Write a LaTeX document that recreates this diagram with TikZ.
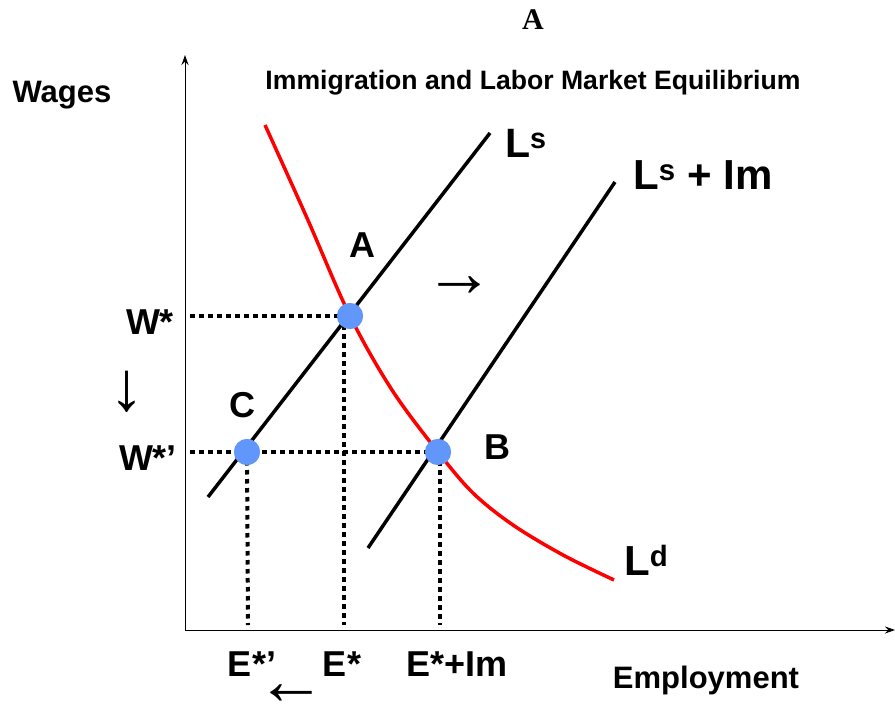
\documentclass[tikz,border=0pt]{standalone}
\usepackage{fontspec}
\setmainfont{Liberation Sans}
\newfontfamily\serifA{Liberation Serif}
\usetikzlibrary{arrows.meta}
\definecolor{dotblue}{RGB}{97,150,250}
\begin{document}
\begin{tikzpicture}[x=1pt,y=-1pt,
  lbl/.style={font=\fontsize{36}{40}\selectfont\bfseries, inner sep=0pt},
  axis/.style={line width=1pt, -{Stealth[length=10pt,width=7pt]}},
  supply/.style={line width=3.5pt},
  demand/.style={line width=3.5pt, red},
  guide/.style={line width=4pt, dash pattern=on 4.5pt off 4.5pt},
  eq/.style={circle, fill=dotblue, minimum size=26pt, inner sep=0pt},
  sym/.style={font=\serifA\fontsize{70}{70}\selectfont, inner sep=0pt}]
\useasboundingbox (0,0) rectangle (895,709);
% axes
\coordinate (O) at (185,630);
\coordinate (ytop) at (185,55);
\coordinate (xend) at (895,630);
\draw[axis] (O) -- (ytop);
\draw[axis] (O) -- (xend);
% supply curves
\coordinate (s1a) at (208,497);
\coordinate (s1b) at (490,133);
\coordinate (s2a) at (368,548);
\coordinate (s2b) at (615,182);
\draw[supply] (s1a) -- (s1b);
\draw[supply] (s2a) -- (s2b);
% demand
\draw[demand] plot[smooth, tension=0.55] coordinates {(265,125) (307,218) (350,316) (392,390) (438,452) (473,493) (513,525) (563,555) (614,580)};
% guides
\coordinate (wA) at (190,316);
\coordinate (wC) at (190,452);
\coordinate (eAtop) at (344,316);
\coordinate (eC) at (248,625);
\coordinate (eA) at (344,625);
\coordinate (eBtop) at (440,452);
\coordinate (eB) at (440,625);
\node[eq] (A) at (350,316) {};
\node[eq] (B) at (438,452) {};
\node[eq] (C) at (247,452) {};
\draw[guide] (wA) -- (A.center);
\draw[guide] (eAtop) -- (eA);
\draw[guide] (wC) -- (B.center);
\draw[guide] (C.center) -- (eC);
\draw[guide] (eBtop) -- (eB);
\node[eq] at (A) {};
\node[eq] at (B) {};
\node[eq] at (C) {};
% labels
\node[font=\serifA\fontsize{30}{30}\selectfont\bfseries, inner sep=0pt] (top) at (533,20) {A};
\node[font=\fontsize{31}{31}\selectfont\bfseries, inner sep=0pt] (wages) at (62,95) {Wages};
\node[font=\fontsize{26.6}{27}\selectfont\bfseries, inner sep=0pt] (title) at (533,83) {Immigration and Labor Market Equilibrium};
\node[lbl, font=\fontsize{41}{41}\selectfont\bfseries, anchor=west] (Ls) at (505,143) {L\textsuperscript{s}};
\node[lbl, font=\fontsize{42}{42}\selectfont\bfseries, anchor=west] (LsIm) at (633,175) {L\textsuperscript{s} + Im};
\node[lbl, font=\fontsize{42}{42}\selectfont\bfseries, anchor=west] (Ld) at (624,560) {L\textsuperscript{d}};
\node[lbl] (Alab) at (362,245) {A};
\node[lbl] (Blab) at (497,447) {B};
\node[lbl] (Clab) at (242,405) {C};
\node[lbl] (W1) at (150,322) {W*};
\node[lbl] (W2) at (148,458) {W*’};
\node[lbl] (E1) at (252,664) {E*’};
\node[lbl] (E2) at (342,664) {E*};
\node[lbl] (E3) at (457,664) {E*+Im};
\node[lbl, font=\fontsize{31}{31}\selectfont\bfseries] (emp) at (706,680) {Employment};
\node[sym] (rarr) at (459,287) {→};
\node[sym] (darr) at (127,392) {↓};
\node[sym] (larr) at (291,695) {←};
\end{tikzpicture}
\end{document}
